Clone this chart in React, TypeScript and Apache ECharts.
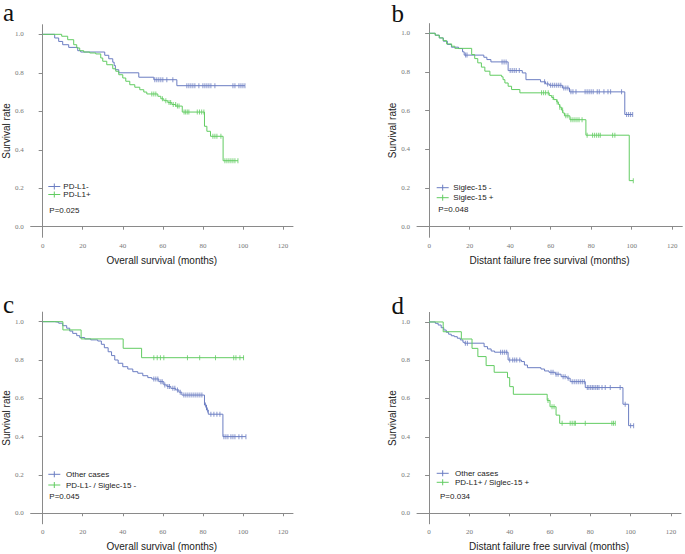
import React, { useEffect, useRef } from "react";
import * as echarts from "echarts";

const xTicks = [0, 20, 40, 60, 80, 100, 120];
const yTicks = [0, 0.2, 0.4, 0.6, 0.8, 1.0];

// Panel a: Overall survival, PD-L1
const aBlue: [number, number][] = [[0,1],[6,0.981],[8,0.963],[10,0.946],[13,0.932],[17.5,0.915],[19,0.908],[31,0.891],[33,0.873],[35,0.855],[35.7,0.838],[36.3,0.816],[38,0.8],[48,0.777],[55.5,0.764],[67,0.733]];
const aBlueEnd = 101;
const aBlueCens = [56,57,58,59,60,62,65,72,73,74,75,76,78,80,81,82,83,84,86,95,96,98,99,100,101];
const aGreen: [number, number][] = [[0,1],[9.5,0.99],[12.5,0.972],[15.5,0.946],[17,0.929],[18.5,0.915],[20.5,0.908],[23.5,0.903],[26.5,0.898],[29,0.877],[30,0.86],[32,0.842],[35,0.821],[36.5,0.808],[38,0.79],[40,0.773],[41.5,0.756],[43.5,0.738],[46,0.725],[48.5,0.712],[50.5,0.7],[52,0.69],[57.5,0.678],[59,0.665],[60.5,0.655],[62.5,0.645],[64.5,0.635],[66.5,0.627],[69.7,0.596],[80.8,0.522],[82,0.496],[83.8,0.47],[90.1,0.343]];
const aGreenEnd = 97.5;
const aGreenCens = [54.5,55.5,56.5,59.8,61.5,63.1,63.9,65.2,66.4,67.3,68.1,70.6,71.4,72.2,73,77.2,78.3,79.4,80.5,85,86,87,89,91,92,93,94,95,96,97.5];

// Panel b: Distant failure free survival, Siglec-15
const bBlue: [number, number][] = [[0,1],[3,0.99],[5,0.976],[7,0.959],[9,0.942],[11,0.928],[14.5,0.921],[16.5,0.904],[17.3,0.887],[27,0.876],[28.5,0.864],[30.5,0.852],[39,0.807],[46,0.795],[47.8,0.76],[55,0.749],[57.5,0.738],[59.3,0.731],[65.8,0.717],[69.3,0.697],[96.6,0.58]];
const bBlueEnd = 100.5;
const bBlueCens = [18,18.7,36,37,38,40,41,42,43,44.5,57,58.5,60,61,62,63,64,65,66.5,67.5,68.5,70,71,72.5,77,78,79,80,81,83,84,86.3,88.3,89.6,95,97.5,98.5,99.5,100.5];
const bGreen: [number, number][] = [[0,1],[3,0.99],[5,0.976],[6.9,0.962],[8.6,0.945],[11.1,0.933],[12.7,0.922],[21,0.89],[22.5,0.869],[24,0.847],[25.8,0.825],[27.5,0.804],[30,0.783],[35.8,0.775],[36.5,0.76],[37.4,0.743],[39,0.726],[40.7,0.709],[44.8,0.692],[59.3,0.678],[60.5,0.668],[61.5,0.657],[63,0.645],[63.8,0.632],[64.5,0.618],[65.3,0.603],[66,0.588],[66.8,0.573],[69.5,0.553],[77.4,0.473],[98.8,0.238]];
const bGreenEnd = 100.8;
const bGreenCens = [55.5,56.5,57.5,58.8,61.2,63.2,64.5,65.9,67.5,68.5,70,71,72,73,74,75.5,78,80.7,81.7,82.7,83.7,84.5,90.6,91.7,100.8];

// Panel c: Overall survival, combined
const cBlue: [number, number][] = [[0,1],[6,0.997],[8,0.992],[10,0.979],[12,0.966],[13.5,0.951],[15,0.939],[17,0.927],[18.5,0.917],[21,0.91],[24,0.905],[27.5,0.899],[29.3,0.882],[30.8,0.864],[32.7,0.843],[34.4,0.823],[36,0.8],[37.7,0.783],[40,0.765],[42.5,0.753],[45,0.739],[47.5,0.731],[50,0.718],[52.5,0.708],[54.5,0.701],[58,0.687],[60.5,0.67],[62,0.662],[64,0.652],[66.4,0.644],[68,0.632],[69.5,0.617],[80.8,0.565],[81.8,0.539],[82.7,0.517],[90,0.4]];
const cBlueEnd = 101.5;
const cBlueCens = [55.5,56.5,57.5,59,59.7,61,62.5,63.3,65,66,67.3,68.7,70.5,71.5,72.5,73.5,74.5,75.5,76.5,77.5,78.5,79.5,81.3,82.3,84,85.5,87,88.5,90.5,91.5,92.5,94,95,96,98,99.5,101.5];
const cGreen: [number, number][] = [[0,1],[10.1,0.957],[19.2,0.91],[40.2,0.861],[49.4,0.812]];
const cGreenEnd = 100.5;
const cGreenCens = [55.5,57.2,58.8,60.5,72.3,78.4,86.3,95.4,96.5,98.5,100.3];

// Panel d: Distant failure free survival, combined
const dBlue: [number, number][] = [[0,1],[3.1,0.993],[4.5,0.984],[6,0.97],[7.3,0.958],[8.5,0.946],[9.7,0.936],[11,0.928],[12.5,0.923],[14,0.915],[15.5,0.906],[16.8,0.894],[17.5,0.889],[27.3,0.871],[29,0.859],[30.8,0.848],[32.5,0.842],[39.2,0.801],[45.8,0.793],[47.3,0.775],[48.8,0.761],[55.5,0.754],[57.3,0.744],[59.5,0.737],[62.6,0.727],[65.5,0.714],[68.4,0.706],[70,0.688],[77.5,0.657],[96.2,0.57],[99,0.458]];
const dBlueEnd = 101.5;
const dBlueCens = [18,19,35.5,36.5,37.5,38.5,40,41.5,42.5,43.5,45,60.5,61.5,63,64,66.5,67.5,69,71,72,73,74,75,76,77,78.5,79.3,80.2,81,81.8,82.7,83.5,84.3,85.8,87.4,89.9,94.8,97.3,100,101.5];
const dGreen: [number, number][] = [[0,1],[7,0.949],[16,0.911],[21.3,0.862],[24.2,0.819],[28.3,0.772],[32.3,0.737],[38.9,0.709],[40,0.662],[41.8,0.622],[58.6,0.59],[60,0.557],[63,0.513],[64.8,0.47]];
const dGreenEnd = 92.4;
const dGreenCens = [59,61,62,66,70,71,72,72.6,77.5,90.7,91.5,92.4];

const panelLetters = ["a", "b", "c", "d"];
const xTitles = [
  "Overall survival (months)",
  "Distant failure free survival (months)",
  "Overall survival (months)",
  "Distant failure free survival (months)",
];
const yTitle = "Survival rate";
const legendBlue = ["PD-L1-", "Siglec-15 -", "Other cases", "Other cases"];
const legendGreen = ["PD-L1+", "Siglec-15 +", "PD-L1- / Siglec-15 -", "PD-L1+ / Siglec-15 +"];
const pValues = ["P=0.025", "P=0.048", "P=0.045", "P=0.034"];

const BLUE = "#6b7dc2";
const GREEN = "#62cc62";

const curves = [
  { blue: aBlue, blueEnd: aBlueEnd, blueCens: aBlueCens, green: aGreen, greenEnd: aGreenEnd, greenCens: aGreenCens },
  { blue: bBlue, blueEnd: bBlueEnd, blueCens: bBlueCens, green: bGreen, greenEnd: bGreenEnd, greenCens: bGreenCens },
  { blue: cBlue, blueEnd: cBlueEnd, blueCens: cBlueCens, green: cGreen, greenEnd: cGreenEnd, greenCens: cGreenCens },
  { blue: dBlue, blueEnd: dBlueEnd, blueCens: dBlueCens, green: dGreen, greenEnd: dGreenEnd, greenCens: dGreenCens },
];

// layout (pixels)
const grids = [
  { left: 29, top: 24.7, width: 264, height: 212.6 },
  { left: 417, top: 23.6, width: 265.3, height: 213.7 },
  { left: 29, top: 312.1, width: 264, height: 211.7 },
  { left: 417, top: 312.4, width: 264, height: 211.4 },
];
const letterPos = [
  { x: 3, y: 12.5 },
  { x: 391.5, y: 13.3 },
  { x: 3, y: 304.5 },
  { x: 391.5, y: 305.5 },
];
const legendPos = [
  { lx: 48.3, tx: 63.3, y1: 186.5, y2: 194.5, yp: 210, px: 49.3 },
  { lx: 436.7, tx: 453.3, y1: 187.7, y2: 197.7, yp: 209.3, px: 438.3 },
  { lx: 48.3, tx: 66, y1: 474.3, y2: 485, yp: 496, px: 49.3 },
  { lx: 436.7, tx: 455, y1: 473.3, y2: 482.3, yp: 496.7, px: 440 },
];

function stepData(pairs: [number, number][], end: number) {
  return [...pairs, [end, pairs[pairs.length - 1][1]]];
}
function survAt(pairs: [number, number][], t: number) {
  let v = pairs[0][1];
  for (const [x, y] of pairs) if (x <= t) v = y;
  return v;
}

export default function App() {
  const ref = useRef<HTMLDivElement>(null);
  useEffect(() => {
    if (!ref.current) return;
    const chart = echarts.init(ref.current, undefined, { renderer: "svg" });
    const axisLine = { lineStyle: { color: "#8a8a8a", width: 1 } };
    const tickLabel = { fontFamily: "Liberation Serif", fontSize: 7, color: "#777" };
    const nameStyle = { fontFamily: "Liberation Sans", fontSize: 10, color: "#222" };

    const xAxis = grids.map((_, i) => ({
      type: "value",
      gridIndex: i,
      min: -6,
      max: 125,
      name: xTitles[i],
      nameLocation: "middle",
      nameGap: 18,
      nameTextStyle: nameStyle,
      axisLine: { show: true, ...axisLine },
      axisTick: { show: true, length: 3, customValues: xTicks, lineStyle: { color: "#8a8a8a" } },
      axisLabel: { ...tickLabel, margin: 5, customValues: xTicks, formatter: (v: number) => String(v) },
      splitLine: { show: false },
    }));
    const yAxis = grids.map((_, i) => ({
      type: "value",
      gridIndex: i,
      min: -0.055,
      max: 1.05,
      name: yTitle,
      nameLocation: "middle",
      nameGap: 16,
      nameTextStyle: nameStyle,
      axisLine: { show: true, ...axisLine },
      axisTick: { show: true, length: 4, customValues: yTicks, lineStyle: { color: "#8a8a8a" } },
      axisLabel: { ...tickLabel, margin: 7, customValues: yTicks, formatter: (v: number) => v.toFixed(1) },
      splitLine: { show: false },
    }));

    const series: any[] = [];
    curves.forEach((c, i) => {
      const defs = [
        { pairs: c.blue, end: c.blueEnd, cens: c.blueCens, color: BLUE, name: legendBlue[i] },
        { pairs: c.green, end: c.greenEnd, cens: c.greenCens, color: GREEN, name: legendGreen[i] },
      ];
      defs.forEach((d, k) => {
        series.push({
          type: "line",
          name: d.name,
          xAxisIndex: i,
          yAxisIndex: i,
          data: stepData(d.pairs, d.end),
          step: "end",
          showSymbol: false,
          symbol: "none",
          silent: true,
          z: 2 + k,
          lineStyle: { color: d.color, width: 1 },
        });
        series.push({
          type: "scatter",
          xAxisIndex: i,
          yAxisIndex: i,
          data: d.cens.map((t) => [t, survAt(d.pairs, t)]),
          symbol: "rect",
          symbolSize: [1, 5],
          silent: true,
          z: 2 + k,
          itemStyle: { color: d.color },
        });
      });
    });

    const graphic: any[] = [];
    panelLetters.forEach((l, i) => {
      graphic.push({
        type: "text",
        x: letterPos[i].x,
        y: letterPos[i].y,
        style: { text: l, fontFamily: "Liberation Serif", fontSize: 25, fill: "#111", align: "left", verticalAlign: "middle" },
      });
      const lp = legendPos[i];
      const items = [
        { y: lp.y1, color: BLUE, text: legendBlue[i] },
        { y: lp.y2, color: GREEN, text: legendGreen[i] },
      ];
      items.forEach((it) => {
        graphic.push({ type: "line", shape: { x1: lp.lx, y1: it.y, x2: lp.lx + 12, y2: it.y }, style: { stroke: it.color, lineWidth: 1 } });
        graphic.push({ type: "line", shape: { x1: lp.lx + 6, y1: it.y - 3, x2: lp.lx + 6, y2: it.y + 3 }, style: { stroke: it.color, lineWidth: 1 } });
        graphic.push({
          type: "text",
          x: lp.tx,
          y: it.y,
          style: { text: it.text, fontFamily: "Liberation Sans", fontSize: 8, fill: "#222", align: "left", verticalAlign: "middle" },
        });
      });
      graphic.push({
        type: "text",
        x: lp.px,
        y: lp.yp,
        style: { text: pValues[i], fontFamily: "Liberation Sans", fontSize: 8, fill: "#222", align: "left", verticalAlign: "middle" },
      });
    });

    chart.setOption({
      animation: false,
      backgroundColor: "#fff",
      grid: grids.map((g) => ({ ...g, containLabel: false })),
      xAxis,
      yAxis,
      series,
      graphic,
    });
    return () => chart.dispose();
  }, []);
  return <div ref={ref} style={{ position: "fixed", left: 0, top: 0, width: 685, height: 554 }} />;
}
